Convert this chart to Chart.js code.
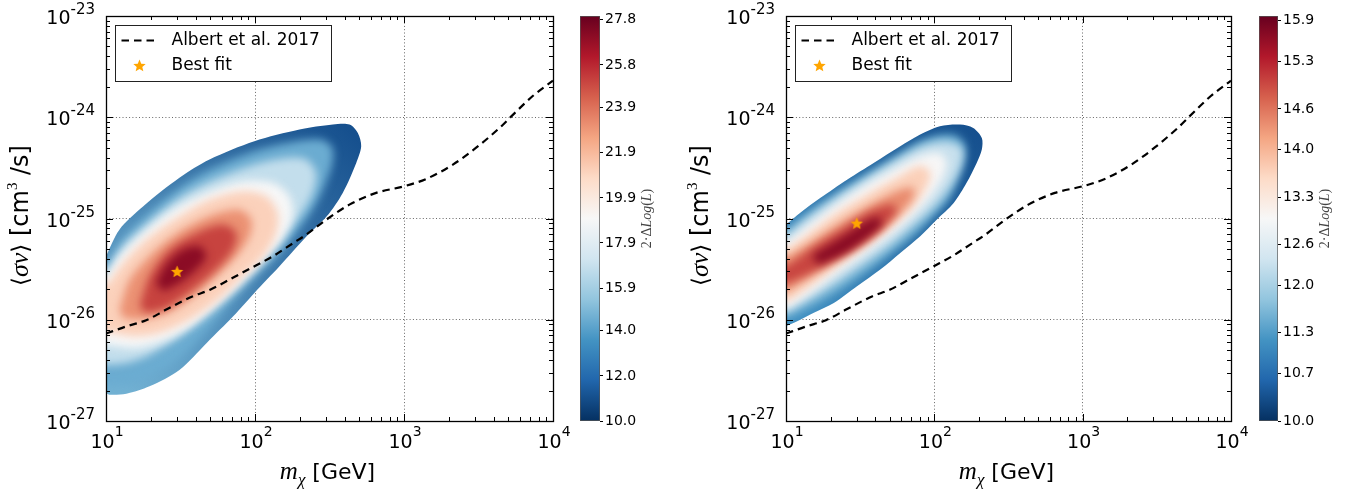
<!DOCTYPE html>
<html>
<head>
<meta charset="utf-8">
<script src="https://cdn.jsdelivr.net/npm/chart.js@4.4.1/dist/chart.umd.min.js"></script>
<style>
  html, body { margin: 0; padding: 0; background: #fff; }
  #wrap { position: relative; width: 1358px; height: 493px; overflow: hidden; }
  canvas { position: absolute; top: 0; }
</style>
</head>
<body>
<div id="wrap">
  <canvas id="mainL" width="680" height="493" style="left:0px"></canvas>
  <canvas id="cbL" width="120" height="493" style="left:560px"></canvas>
  <canvas id="mainR" width="678" height="493" style="left:680px"></canvas>
  <canvas id="cbR" width="119" height="493" style="left:1239px"></canvas>
</div>
<script>
// ---- data ----
// Albert et al. 2017 limit, same curve in both panels (mass GeV, <sigma v> cm^3/s)
const albertMass = [10, 13.7, 18.6, 25.4, 38, 50, 71, 100, 132, 180, 220, 300, 430, 650, 1000, 1410, 2130, 3050, 4380, 5250, 7310, 10000];
const albertSigv = [7.3e-27, 8.6e-27, 9.9e-27, 1.26e-26, 1.7e-26, 1.98e-26, 2.6e-26, 3.4e-26, 4.24e-26, 5.7e-26, 6.9e-26, 9.7e-26, 1.37e-25, 1.79e-25, 2.08e-25, 2.46e-25, 3.41e-25, 5.0e-25, 7.85e-25, 1.02e-24, 1.62e-24, 2.3e-24];

const bestLeft = [30, 3.0e-26];
const bestRight = [30, 9.0e-26];

const xTickExp = [1, 2, 3, 4];
const yTickExp = [-27, -26, -25, -24, -23];

const cbTicksLeft = [10.0, 12.0, 14.0, 15.9, 17.9, 19.9, 21.9, 23.9, 25.8, 27.8];
const cbTicksRight = [10.0, 10.7, 11.3, 12.0, 12.6, 13.3, 14.0, 14.6, 15.3, 15.9];
const cbRangeLeft = [10, 27.97];
const cbRangeRight = [10, 15.97];

// contour levels (2*DeltaLogL) of the inner filled contours, outermost first
const levelsLeft = [14.5, 16.8, 19.0, 21.1, 23.1, 25.1, 27.1];
const levelsRight = [11.5, 12.3, 13.0, 13.7, 14.4, 15.0, 15.7];

// left panel contours [mass, sigv]
const leftOuter = [[10,4.24e-26],[12.3,7.76e-26],[17.8,1.32e-25],[31.1,2.52e-25],[49.5,3.82e-25],[99,5.79e-25],[199,7.55e-25],[333,8.47e-25],[431,8.47e-25],[490,7.0e-25],[516,5.16e-25],[478,3.54e-25],[388,1.79e-25],[303,1.05e-25],[222,6.67e-26],[146,3.37e-26],[99,1.84e-26],[71.4,1.08e-26],[47.4,5.9e-27],[31.1,3.19e-27],[19.6,2.2e-27],[13.7,1.86e-27],[10.55,1.82e-27],[10,1.89e-27]];
const leftL2 = [[10,3.37e-26],[13.0,6.43e-26],[18.6,1.09e-25],[31.1,2.0e-25],[49.5,3.04e-25],[99,4.62e-25],[190,5.8e-25],[280,6.0e-25],[330,5.0e-25],[330,3.5e-25],[300,2.3e-25],[260,1.45e-25],[210,8.8e-26],[154,4.93e-26],[102,2.69e-26],[71,1.52e-26],[47,7.6e-27],[31.1,4.1e-27],[19.6,2.7e-27],[13.7,2.25e-27],[10,2.2e-27]];
const leftL3 = [[10,2.9e-26],[13.0,5.32e-26],[18.6,8.7e-26],[31.1,1.6e-25],[49.5,2.33e-25],[99,3.41e-25],[162,3.96e-25],[221,3.82e-25],[257,2.82e-25],[244,1.79e-25],[199,1.05e-25],[146,6.19e-26],[102,3.64e-26],[71,2.06e-26],[47,1.17e-26],[31.1,6.86e-27],[19.6,4.52e-27],[13.7,3.74e-27],[10,3.6e-27]];
const leftL4 = [[10,2.59e-26],[12.3,4.23e-26],[17.7,7.2e-26],[28.1,1.22e-25],[47,1.79e-25],[82.9,2.33e-25],[132,2.25e-25],[170,1.66e-25],[179,1.05e-25],[154,6.19e-26],[119,3.93e-26],[87.2,2.49e-26],[60.8,1.52e-26],[40.3,9.29e-27],[25.3,6.36e-27],[15.9,5.26e-27],[10,5.67e-27]];
const leftL5 = [[10,2.14e-26],[13.0,3.64e-26],[18.6,6.19e-26],[29.6,1.01e-25],[49.5,1.54e-25],[82.9,1.86e-25],[119,1.66e-25],[142,1.14e-25],[139,7.2e-26],[113,4.23e-26],[78.7,2.49e-26],[54.9,1.52e-26],[36.3,1.0e-26],[22.9,7.4e-27],[15.1,6.86e-27],[10,7.69e-27]];
const leftL6 = [[12.3,1.26e-26],[14.4,2.49e-26],[20.6,4.57e-26],[32.8,7.77e-26],[52.1,1.09e-25],[78.7,1.22e-25],[94.3,9.75e-26],[91.9,6.67e-26],[74.8,4.23e-26],[54.9,2.69e-26],[38.3,1.7e-26],[25.3,1.17e-26],[16.8,1.0e-26],[13.0,1.04e-26]];
const leftL7 = [[16.8,1.36e-26],[19.6,2.69e-26],[26.7,4.93e-26],[40.3,7.2e-26],[60.8,8.7e-26],[74.8,7.2e-26],[71,4.93e-26],[54.9,3.13e-26],[38.3,1.98e-26],[25.3,1.31e-26],[18.6,1.17e-26]];
const leftL8 = [[21.7,2.31e-26],[25.3,3.5e-26],[32.8,4.93e-26],[42.4,5.32e-26],[47,4.23e-26],[40.3,3.13e-26],[31.1,2.31e-26],[24.1,1.91e-26]];

// right panel contours [mass, sigv]
const rightOuter = [[10,8.7e-26],[12.5,1.14e-25],[17.1,1.6e-25],[25.8,2.42e-25],[39.0,3.54e-25],[58.9,5.17e-25],[80.3,6.75e-25],[109,8.15e-25],[149,8.47e-25],[183,7.85e-25],[209,6.25e-25],[209,4.8e-25],[193,3.54e-25],[165,2.25e-25],[135,1.42e-25],[104,9.75e-26],[80.3,6.67e-26],[58.9,4.57e-26],[43.2,3.13e-26],[30.1,2.14e-26],[21.0,1.46e-26],[15.4,1.17e-26],[11.9,9.65e-27],[10,8.61e-27]];
const rightL2 = [[10,7.77e-26],[13.2,1.07e-25],[19.9,1.63e-25],[31.7,2.52e-25],[50.5,3.82e-25],[76.3,5.58e-25],[110,6.7e-25],[140,6.6e-25],[160,5.4e-25],[160,3.9e-25],[145,2.5e-25],[125,1.55e-25],[101,1.09e-25],[76.3,7.2e-26],[55.9,4.93e-26],[40.0,3.37e-26],[27.9,2.31e-26],[19.4,1.64e-26],[13.9,1.26e-26],[10,1.0e-26]];
const rightL3 = [[10,6.78e-26],[13.9,1.01e-25],[22.1,1.63e-25],[35.2,2.52e-25],[55.9,3.82e-25],[84.6,5.25e-25],[121,5.75e-25],[153,4.98e-25],[153,3.54e-25],[131,2.16e-25],[101,1.32e-25],[74.3,8.7e-26],[53.1,5.74e-26],[36.1,3.78e-26],[23.9,2.49e-26],[15.8,1.7e-26],[10,1.17e-26]];
const rightL4 = [[10,5.74e-26],[13.9,8.38e-26],[21.0,1.32e-25],[33.4,2.08e-25],[53.1,3.04e-25],[80.3,4.12e-25],[107,4.44e-25],[121,3.68e-25],[115,2.61e-25],[96.2,1.72e-25],[76.3,1.18e-25],[57.4,8.07e-26],[41.0,5.52e-26],[28.6,3.78e-26],[19.9,2.59e-26],[13.9,1.77e-26],[10,1.28e-26]];
const rightL5 = [[10,4.93e-26],[13.9,6.93e-26],[22.1,1.14e-25],[35.2,1.72e-25],[55.9,2.52e-25],[80.3,3.31e-25],[93.8,2.82e-25],[89.0,2.08e-25],[72.4,1.32e-25],[53.1,8.7e-26],[37.0,5.74e-26],[25.8,3.93e-26],[18.0,2.69e-26],[12.5,1.84e-26],[10,1.49e-26]];
const rightL6 = [[10,4.08e-26],[14.6,5.74e-26],[23.3,9.04e-26],[37.0,1.35e-25],[55.9,1.86e-25],[72.4,2.0e-25],[70.6,1.54e-25],[55.9,1.05e-25],[39.0,6.67e-26],[25.8,4.57e-26],[17.1,3.13e-26],[11.9,2.22e-26],[10,1.87e-26]];
const rightL7 = [[10,3.32e-26],[15.4,5.24e-26],[24.5,8.07e-26],[37.0,1.18e-25],[50.5,1.37e-25],[55.9,1.24e-25],[47.9,9.04e-26],[33.4,5.96e-26],[22.1,4.08e-26],[14.6,2.9e-26],[10,2.27e-26]];
const rightL8 = [[15.0,4.3e-26],[23.3,6.4e-26],[31.7,8.6e-26],[41.0,1.03e-25],[44.4,9.0e-26],[35.2,6.5e-26],[24.5,4.5e-26],[16.5,3.5e-26]];

// ---- style helpers ----
Chart.defaults.font.family = 'DejaVu Sans';
Chart.defaults.color = '#000';

const RDBU_R = ['#053061','#2166ac','#4393c3','#92c5de','#d1e5f0','#f7f7f7','#fddbc7','#f4a582','#d6604d','#b2182b','#67001f'];
function rgbOf(h) { return [1, 3, 5].map(i => parseInt(h.slice(i, i + 2), 16)); }
function cmap(f) {
  f = Math.max(0, Math.min(1, f));
  const p = f * 10, i = Math.min(9, Math.floor(p)), t = p - i;
  const a = rgbOf(RDBU_R[i]), b = rgbOf(RDBU_R[i + 1]);
  return 'rgb(' + a.map((v, k) => Math.round(v + (b[k] - v) * t)).join(',') + ')';
}
function isDecade(v) { const l = Math.log10(v); return Math.abs(l - Math.round(l)) < 1e-6; }
function decadeTicks(e0, e1) {
  const t = [];
  for (let e = e0; e < e1; e++) for (let k = 1; k < 10; k++) t.push({ value: k * Math.pow(10, e) });
  t.push({ value: Math.pow(10, e1) });
  return t;
}
function pairs(arr) { return arr.map(([x, y]) => ({ x, y })); }

function starImage(r) {
  const c = document.createElement('canvas');
  const s = Math.ceil(r * 2 + 2);
  c.width = c.height = s;
  const g = c.getContext('2d');
  g.beginPath();
  for (let i = 0; i < 10; i++) {
    const a = -Math.PI / 2 + i * Math.PI / 5, rr = i % 2 ? r * 0.45 : r;
    g.lineTo(s / 2 + rr * Math.cos(a), s / 2 + rr * Math.sin(a) + 0.5);
  }
  g.closePath();
  g.fillStyle = '#ffa500';
  g.fill();
  return c;
}
const STAR = starImage(6.5);

// draw a run of text pieces with their own fonts; dy shifts a piece up/down
function drawRich(ctx, parts, x, y, align) {
  let w = 0;
  parts.forEach(p => { ctx.font = p.f; p.w = ctx.measureText(p.t).width; w += p.w; });
  let cx = align === 'center' ? x - w / 2 : align === 'right' ? x - w : x;
  ctx.textAlign = 'left';
  ctx.textBaseline = 'alphabetic';
  parts.forEach(p => { ctx.font = p.f; ctx.fillText(p.t, cx, y + (p.dy || 0)); cx += p.w; });
}

const SANS = '"DejaVu Sans"';

// filled contours: drawn from the line elements Chart.js built for each contour dataset.
// outer region crisp, inner levels softened and kept inside the outer region
const contourFill = {
  id: 'contourFill',
  beforeDatasetsDraw(ch) {
    const { ctx, chartArea: a } = ch;
    const list = ch.data.datasets.map((d, i) => ({ d, m: ch.getDatasetMeta(i) })).filter(o => o.d.contourColor);
    if (!list.length) return;
    const addPath = (m, mirror) => {
      m.dataset.updateControlPoints(a, 'x');
      if (mirror) { ctx.save(); ctx.translate(2 * a.left, 0); ctx.scale(-1, 1); }
      m.dataset.path(ctx);
      ctx.closePath();
      if (mirror) ctx.restore();
    };
    ctx.save();
    ctx.beginPath();
    ctx.rect(a.left, a.top, a.right - a.left, a.bottom - a.top);
    ctx.clip();
    const outer = list[0];
    ctx.beginPath();
    addPath(outer.m, false);
    const oc = outer.d.contourColor;
    ctx.fillStyle = typeof oc === 'function' ? oc(ch) : oc;
    ctx.fill();
    ctx.clip();
    ctx.filter = 'blur(4px)';
    list.slice(1).forEach(o => {
      ctx.beginPath();
      addPath(o.m, false);
      addPath(o.m, true);
      ctx.fillStyle = o.d.contourColor;
      ctx.fill();
    });
    ctx.restore();
  }
};

const axesDeco = {
  id: 'axesDeco',
  afterDraw(ch) {
    const { ctx, chartArea: a, scales: { x, y } } = ch;
    ctx.save();
    // inward ticks on all four sides
    ctx.strokeStyle = '#000';
    ctx.lineWidth = 1;
    ctx.beginPath();
    x.ticks.forEach(t => {
      const px = Math.round(x.getPixelForValue(t.value)) + 0.5, L = isDecade(t.value) ? 7 : 4;
      ctx.moveTo(px, a.bottom); ctx.lineTo(px, a.bottom - L);
      ctx.moveTo(px, a.top); ctx.lineTo(px, a.top + L);
    });
    y.ticks.forEach(t => {
      const py = Math.round(y.getPixelForValue(t.value)) + 0.5, L = isDecade(t.value) ? 7 : 4;
      ctx.moveTo(a.left, py); ctx.lineTo(a.left + L, py);
      ctx.moveTo(a.right, py); ctx.lineTo(a.right - L, py);
    });
    ctx.stroke();
    ctx.lineWidth = 1.3;
    ctx.strokeRect(Math.round(a.left) + 0.5, Math.round(a.top) + 0.5, Math.round(a.right - a.left), Math.round(a.bottom - a.top));

    // decade tick labels with superscript exponents
    ctx.fillStyle = '#000';
    xTickExp.forEach(e => {
      const px = x.getPixelForValue(Math.pow(10, e));
      ctx.font = '19px ' + SANS; const w1 = ctx.measureText('10').width;
      ctx.font = '14px ' + SANS; const w2 = ctx.measureText(String(e)).width;
      const s = px - (w1 + w2) / 2 + 1;
      drawRich(ctx, [{ t: '10', f: '19px ' + SANS }, { t: String(e), f: '14px ' + SANS, dy: -12 }], s, a.bottom + 27, 'left');
    });
    yTickExp.forEach(e => {
      const py = y.getPixelForValue(Math.pow(10, e));
      drawRich(ctx, [{ t: '10', f: '19px ' + SANS }, { t: String(e), f: '15px ' + SANS, dy: -10 }], a.left - 11, py + 8, 'right');
    });

    // axis titles
    drawRich(ctx, [
      { t: 'm', f: 'italic 25px "Liberation Serif"' },
      { t: 'χ', f: 'italic 17px "Liberation Serif"', dy: 6 },
      { t: ' [GeV]', f: '22px ' + SANS }
    ], (a.left + a.right) / 2 - 2, 479, 'center');

    ctx.save();
    ctx.translate(28, (a.top + a.bottom) / 2 - 3);
    ctx.rotate(-Math.PI / 2);
    drawRich(ctx, [
      { t: '⟨', f: '23px ' + SANS },
      { t: 'σv', f: 'italic 26px "Liberation Serif"' },
      { t: '⟩', f: '23px ' + SANS },
      { t: ' [cm', f: '24px ' + SANS },
      { t: '3', f: '15px "Liberation Serif"', dy: -11 },
      { t: ' /s]', f: '24px ' + SANS }
    ], 0, 0, 'center');
    ctx.restore();

    // legend box
    const lx = Math.round(a.left) + 9.5, ly = Math.round(a.top) + 9.5;
    ctx.fillStyle = '#fff';
    ctx.fillRect(lx, ly, 216, 56);
    ctx.strokeStyle = '#222';
    ctx.lineWidth = 1;
    ctx.strokeRect(lx, ly, 216, 56);
    const dsLine = ch.data.datasets.find(d => d.label === 'Albert et al. 2017');
    const dsStar = ch.data.datasets.find(d => d.label === 'Best fit');
    ctx.beginPath();
    ctx.setLineDash(dsLine.borderDash);
    ctx.lineWidth = dsLine.borderWidth;
    ctx.strokeStyle = dsLine.borderColor;
    ctx.moveTo(lx + 6, ly + 15); ctx.lineTo(lx + 42, ly + 15);
    ctx.stroke();
    ctx.setLineDash([]);
    ctx.drawImage(STAR, lx + 24 - STAR.width / 2, ly + 40 - STAR.height / 2);
    ctx.fillStyle = '#000';
    ctx.font = '17px ' + SANS;
    ctx.textAlign = 'left';
    ctx.textBaseline = 'middle';
    ctx.fillText(dsLine.label, lx + 56, ly + 15);
    ctx.fillText(dsStar.label, lx + 56, ly + 40);
    ctx.restore();
  }
};

function mainChart(id, p) {
  const [lo, hi] = p.range;
  const frac = v => (v - lo) / (hi - lo);
  const outerFill = ch => {
    const xs = ch.scales.x, ys = ch.scales.y;
    const g = ch.ctx.createLinearGradient(
      xs.getPixelForValue(p.grad.p0[0]), ys.getPixelForValue(p.grad.p0[1]),
      xs.getPixelForValue(p.grad.p1[0]), ys.getPixelForValue(p.grad.p1[1]));
    g.addColorStop(0, cmap(p.grad.f0));
    g.addColorStop(1, cmap(p.grad.f1));
    return g;
  };
  const poly = (arr, color, order) => ({
    data: pairs(arr), showLine: true, fill: false, contourColor: color,
    borderColor: 'rgba(0,0,0,0)', borderWidth: 1,
    pointRadius: 0, tension: 0.3, order
  });
  const datasets = [poly(p.contours[0], outerFill, 30)];
  p.contours.slice(1).forEach((c, i) => datasets.push(poly(c, cmap(frac(p.levels[i])), 29 - i)));
  datasets.push({
    label: 'Albert et al. 2017',
    data: albertMass.map((m, i) => ({ x: m, y: albertSigv[i] })),
    showLine: true, borderColor: '#000', borderWidth: 2.2, borderDash: [7.5, 5],
    pointRadius: 0, cubicInterpolationMode: 'monotone', fill: false, order: 1
  });
  datasets.push({
    label: 'Best fit', data: [{ x: p.best[0], y: p.best[1] }],
    pointStyle: STAR, pointRadius: 6, showLine: false, order: 0
  });

  return new Chart(document.getElementById(id), {
    type: 'scatter',
    data: { datasets },
    options: {
      responsive: false, animation: false, devicePixelRatio: 1, events: [],
      layout: { padding: { left: 0, top: 16, right: 127, bottom: 0 } },
      plugins: { legend: { display: false }, tooltip: { enabled: false } },
      scales: {
        x: {
          type: 'logarithmic', min: 10, max: 1e4,
          afterBuildTicks: s => { s.ticks = decadeTicks(1, 4); },
          afterFit: s => { s.height = 72; },
          ticks: { display: false, autoSkip: false },
          grid: { color: c => isDecade(c.tick.value) ? 'rgba(0,0,0,0.6)' : 'rgba(0,0,0,0)', lineWidth: 1, drawTicks: false },
          border: { display: false, dash: [1, 2.3] }
        },
        y: {
          type: 'logarithmic', min: 1e-27, max: 1e-23,
          afterBuildTicks: s => { s.ticks = decadeTicks(-27, -23); },
          afterFit: s => { s.width = 106; },
          ticks: { display: false, autoSkip: false },
          grid: { color: c => isDecade(c.tick.value) ? 'rgba(0,0,0,0.6)' : 'rgba(0,0,0,0)', lineWidth: 1, drawTicks: false },
          border: { display: false, dash: [1, 2.3] }
        }
      }
    },
    plugins: [contourFill, axesDeco]
  });
}

const cbLabel = {
  id: 'cbLabel',
  afterDraw(ch) {
    const { ctx, chartArea: a } = ch;
    ctx.save();
    ctx.fillStyle = '#444';
    ctx.translate(a.right + 51, (a.top + a.bottom) / 2);
    ctx.rotate(-Math.PI / 2);
    const R = '14px "Liberation Serif"', I = 'italic 14px "Liberation Serif"';
    drawRich(ctx, [{ t: '2·Δ', f: R }, { t: 'Log', f: I }, { t: '(', f: R }, { t: 'L', f: I }, { t: ')', f: R }], 0, 0, 'center');
    ctx.restore();
  }
};

function colorbar(id, range, ticks) {
  return new Chart(document.getElementById(id), {
    type: 'bar',
    data: {
      labels: [''],
      datasets: [{
        data: [range],
        backgroundColor: c => {
          const a = c.chart.chartArea;
          if (!a) return '#fff';
          const g = c.chart.ctx.createLinearGradient(0, a.bottom, 0, a.top);
          RDBU_R.forEach((h, i) => g.addColorStop(i / 10, h));
          return g;
        },
        borderColor: '#555', borderWidth: 1, borderSkipped: false,
        categoryPercentage: 1, barPercentage: 1
      }]
    },
    options: {
      responsive: false, animation: false, devicePixelRatio: 1, events: [],
      layout: { padding: { left: 20, top: 16, right: 20, bottom: 72 } },
      plugins: { legend: { display: false }, tooltip: { enabled: false } },
      scales: {
        x: { display: false },
        y: {
          position: 'right', min: range[0], max: range[1],
          afterBuildTicks: s => { s.ticks = ticks.map(v => ({ value: v })); },
          afterFit: s => { s.width = 60; },
          ticks: { autoSkip: false, padding: 2, font: { size: 14 }, color: '#000', callback: v => Number(v).toFixed(1) },
          grid: { drawOnChartArea: false, drawTicks: true, tickLength: 3, color: '#000' },
          border: { display: false }
        }
      }
    },
    plugins: [cbLabel]
  });
}

mainChart('mainL', {
  contours: [leftOuter, leftL2, leftL3, leftL4, leftL5, leftL6, leftL7, leftL8],
  levels: levelsLeft, range: cbRangeLeft, best: bestLeft,
  grad: { p0: [470, 6.5e-25], f0: 0.06, p1: [13, 2.2e-27], f1: 0.26 }
});
mainChart('mainR', {
  contours: [rightOuter, rightL2, rightL3, rightL4, rightL5, rightL6, rightL7, rightL8],
  levels: levelsRight, range: cbRangeRight, best: bestRight,
  grad: { p0: [200, 6.5e-25], f0: 0.06, p1: [12, 1.2e-26], f1: 0.19 }
});
colorbar('cbL', cbRangeLeft, cbTicksLeft);
colorbar('cbR', cbRangeRight, cbTicksRight);
</script>
</body>
</html>
